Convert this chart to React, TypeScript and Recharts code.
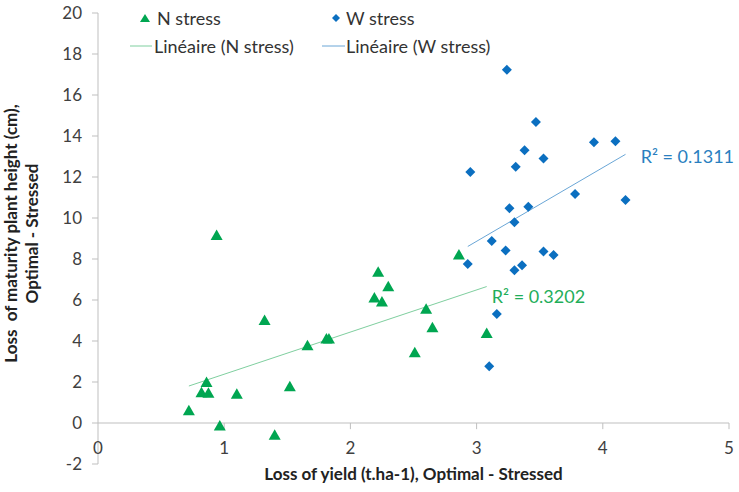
import { ScatterChart, Scatter, XAxis, YAxis, ReferenceLine, ReferenceDot, Legend } from 'recharts';

// N stress (green triangles)
const nYieldLoss = [0.72, 0.82, 0.86, 0.875, 0.94, 0.965, 1.1, 1.32, 1.4, 1.52, 1.66, 1.81, 1.83, 2.19, 2.22, 2.25, 2.3, 2.51, 2.6, 2.65, 2.86, 3.08];
const nHeightLoss = [0.6, 1.48, 1.97, 1.45, 9.15, -0.15, 1.4, 5.0, -0.6, 1.77, 3.77, 4.1, 4.1, 6.1, 7.35, 5.9, 6.65, 3.43, 5.55, 4.65, 8.2, 4.37];

// W stress (blue diamonds)
const wYieldLoss = [3.24, 3.47, 3.93, 4.1, 3.38, 3.53, 2.95, 3.31, 3.78, 4.18, 3.26, 3.41, 3.3, 3.12, 3.23, 3.53, 3.61, 2.93, 3.36, 3.3, 3.16, 3.1];
const wHeightLoss = [17.23, 14.68, 13.69, 13.74, 13.3, 12.9, 12.24, 12.5, 11.17, 10.88, 10.47, 10.55, 9.79, 8.88, 8.42, 8.37, 8.2, 7.76, 7.69, 7.45, 5.32, 2.77];

const xTicks = [0, 1, 2, 3, 4, 5];
const yTicks = [-2, 0, 2, 4, 6, 8, 10, 12, 14, 16, 18, 20];

const nR2 = { x: 3.12, y: 6.15, text: 'R² = 0.3202' };
const wR2 = { x: 4.3, y: 13.0, text: 'R² = 0.1311' };

const GREEN = '#00a651';
const BLUE = '#0b6fc0';
const AXIS = '#bfbfbf';
const FONT = 'Lato, "Open Sans", sans-serif';

const nData = nYieldLoss.map((x, i) => ({ x, y: nHeightLoss[i] }));
const wData = wYieldLoss.map((x, i) => ({ x, y: wHeightLoss[i] }));

// least squares trend, drawn between min and max x of the series
function trend(xs: number[], ys: number[]) {
  const n = xs.length;
  const mx = xs.reduce((a, b) => a + b, 0) / n;
  const my = ys.reduce((a, b) => a + b, 0) / n;
  let sxy = 0, sxx = 0;
  xs.forEach((x, i) => { sxy += (x - mx) * (ys[i] - my); sxx += (x - mx) ** 2; });
  const b = sxy / sxx;
  const a = my - b * mx;
  const x0 = Math.min(...xs), x1 = Math.max(...xs);
  return [{ x: x0, y: a + b * x0 }, { x: x1, y: a + b * x1 }];
}

const nTrend = trend(nYieldLoss, nHeightLoss);
const wTrend = trend(wYieldLoss, wHeightLoss);

const Triangle = (p: any) => (
  <path d={`M${p.cx},${p.cy - 6} L${p.cx + 6},${p.cy + 4.5} L${p.cx - 6},${p.cy + 4.5} Z`} fill={GREEN} />
);
const Diamond = (p: any) => (
  <path d={`M${p.cx},${p.cy - 5} L${p.cx + 5},${p.cy} L${p.cx},${p.cy + 5} L${p.cx - 5},${p.cy} Z`} fill={BLUE} />
);

function LegendBox() {
  const txt = { position: 'absolute' as const, fontSize: 18, color: '#333', whiteSpace: 'nowrap' as const, lineHeight: '20px' };
  return (
    <div style={{ position: 'relative', width: 400, height: 60, fontFamily: FONT }}>
      <svg width={400} height={60} style={{ position: 'absolute', left: 0, top: 0 }}>
        <path d="M15,9 L20,17 L10,17 Z" fill={GREEN} />
        <path d="M206,9 L210,13 L206,17 L202,13 Z" fill={BLUE} />
        <line x1={0} x2={22} y1={41} y2={41} stroke="#7fcf9f" strokeWidth={1} />
        <line x1={192} x2={215} y1={41} y2={41} stroke="#6aa6d6" strokeWidth={1} />
      </svg>
      <span style={{ ...txt, left: 27, top: 3 }}>N stress</span>
      <span style={{ ...txt, left: 216, top: 3 }}>W stress</span>
      <span style={{ ...txt, left: 24, top: 31 }}>Linéaire (N stress)</span>
      <span style={{ ...txt, left: 216, top: 31 }}>Linéaire (W stress)</span>
    </div>
  );
}

const XTick = (p: any) => (
  <text x={p.x} y={p.y - 16} dy="0.355em" textAnchor="middle" fontSize={17} fill="#404040" fontFamily={FONT}>
    {p.payload.value}
  </text>
);

export default function App() {
  return (
    <div style={{ width: 739, height: 492, background: '#fff', position: 'relative' }}>
      <style>{`body{margin:0}`}</style>
      <ScatterChart width={739} height={492} margin={{ top: 13, right: 10, bottom: 8, left: 38 }}>
        <XAxis type="number" dataKey="x" domain={[0, 5]} ticks={xTicks} axisLine={false} tickLine={false}
          tickSize={0} tickMargin={0} height={20} tick={<XTick />} interval={0}
          label={{
            content: (props: any) => {
              const vb = props.viewBox;
              return (
                <text x={vb.x + vb.width / 2} y={474} dy="0.355em" textAnchor="middle" fontSize={17} fontWeight="bold"
                  fill="#222" fontFamily={FONT}>
                  Loss of yield (t.ha-1), Optimal - Stressed
                </text>
              );
            },
          }} />
        <YAxis type="number" dataKey="y" domain={[-2, 20]} ticks={yTicks} width={60} interval={0}
          stroke={AXIS} tickSize={6} tickMargin={10}
          tick={{ fill: '#404040', fontSize: 17, fontFamily: FONT }}
          label={{
            content: (props: any) => {
              const vb = props.viewBox;
              const cy = vb.y + vb.height / 2 - 5;
              return (
                <g fontFamily={FONT} fontSize={17} fontWeight="bold" fill="#222" textAnchor="middle">
                  <text x={11} y={cy} dy="0.355em" transform={`rotate(-90 11 ${cy})`} style={{ whiteSpace: 'pre' }}>
                    {'Loss  of maturity plant height (cm),'}
                  </text>
                  <text x={32} y={cy} dy="0.355em" transform={`rotate(-90 32 ${cy})`}>
                    Optimal - Stressed
                  </text>
                </g>
              );
            },
          }} />
        <ReferenceLine y={0} stroke={AXIS} strokeWidth={1} />
        {xTicks.slice(1).map((t) => (
          <ReferenceLine key={t} segment={[{ x: t, y: 0 }, { x: t, y: -0.3 }]} stroke={AXIS} />
        ))}
        <ReferenceLine segment={nTrend} stroke="#7fcf9f" strokeWidth={1} />
        <ReferenceLine segment={wTrend} stroke="#6aa6d6" strokeWidth={1} />
        <Legend verticalAlign="middle" align="center" content={<LegendBox />}
          wrapperStyle={{ position: 'absolute', left: 130, top: 5, width: 400, height: 60 }} />
        <Scatter name="N stress" data={nData} shape={Triangle} isAnimationActive={false} />
        <Scatter name="W stress" data={wData} shape={Diamond} isAnimationActive={false} />
        <ReferenceDot x={nR2.x} y={nR2.y} r={0} fill="none" stroke="none"
          label={{ value: nR2.text, position: 'right', offset: 0, fill: '#1fae5a', fontSize: 18, fontFamily: FONT }} />
        <ReferenceDot x={wR2.x} y={wR2.y} r={0} fill="none" stroke="none"
          label={{ value: wR2.text, position: 'right', offset: 0, fill: '#2a7fc0', fontSize: 18, fontFamily: FONT }} />
      </ScatterChart>
    </div>
  );
}
